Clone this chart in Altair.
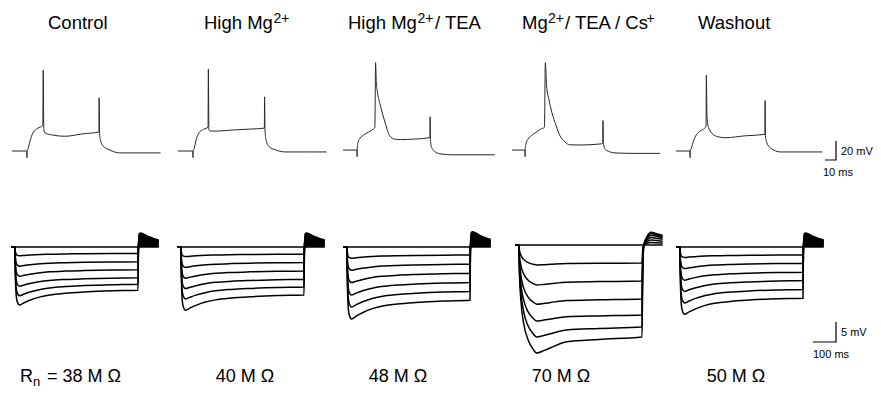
import altair as alt
import pandas as pd

FONT = "Liberation Sans"

# ---------------- top row: evoked action potentials (time ms, voltage mV re rest)
control_ap_t = [0, 13.5, 13.6, 13.7, 14.5, 16.5, 19, 23.5, 28, 28.4, 28.9, 30, 36, 48, 64, 79, 79.2, 79.6, 80.3, 83, 89, 98, 118, 135]
control_ap_v = [0, 0, -7, 0, 2, 11, 19, 24, 27, 85, 23, 19, 17, 15.5, 18, 20, 56, 20, 12, 5, 1, -2, -2, -2]
highmg_ap_t = [0, 13.5, 13.6, 13.7, 14.5, 16.5, 19, 23.5, 27.3, 27.6, 28.1, 29.5, 36, 48, 64, 78.5, 78.7, 79.1, 79.8, 82.5, 89, 98, 118, 135]
highmg_ap_v = [0, 0, -7, 0, 2, 12, 19, 23, 25, 86, 22, 21, 21, 22, 23, 24, 57, 23, 13, 5, 1, -1, -1, -1]
tea_ap_t = [0, 12.7, 12.8, 12.9, 13.6, 15.5, 18.5, 21.8, 27.3, 29, 29.6, 30.3, 31.3, 33.5, 36, 38.5, 42.5, 47, 52, 64, 79, 79.2, 79.5, 80.5, 83, 88, 100, 120, 138]
tea_ap_v = [1, 1, -6, 1, 9, 13.5, 16.5, 19, 23, 25, 93, 72, 62, 50, 39, 29, 16, 12.5, 12, 12.5, 14, 36, 12, 4, 0, -3, -4, -4, -4]
cs_ap_t = [0, 11.8, 11.9, 12, 12.8, 14.5, 17.5, 21, 26, 29.5, 30.3, 31.4, 33.6, 36.4, 40, 43.6, 48.2, 52.7, 61.8, 80, 82.5, 82.7, 83, 85.5, 93.6, 110, 134.5]
cs_ap_v = [1, 1, -6, 1, 8, 12.5, 16, 19, 23, 25, 93, 69, 54, 40, 27, 16, 9.5, 6.5, 6.3, 7.4, 8, 32, 8, 1, -2, -2.5, -2.5]
wash_ap_t = [0, 12.7, 12.8, 12.9, 14, 16, 18.5, 22, 26, 27.3, 27.6, 28.2, 29.5, 32.5, 38, 45, 63, 80.8, 81, 81.3, 82.5, 86, 95, 110, 133]
wash_ap_v = [0, 0, -7, 0, 3, 11, 17, 21, 24, 26, 80, 36, 25, 19, 15, 14, 16, 17.5, 53, 16, 9, 3, -1, -1, -1]

# ---------------- bottom row: hyperpolarizing current steps (mV re rest)
step_on_ms, step_off_ms, trace_end_ms = 15, 550, 640
control_peak = [0, -2.2, -4.8, -7.3, -9.8, -12.2, -14.5]
control_steady = [0, -1.6, -3.7, -5.7, -7.7, -9.3, -10.8]
highmg_peak = [0, -2.4, -5.1, -7.8, -10.4, -13.0, -15.8]
highmg_steady = [0, -1.8, -3.9, -6.0, -8.1, -10.0, -12.0]
tea_peak = [0, -2.8, -5.8, -8.9, -12.0, -15.0, -18.0]
tea_steady = [0, -2.0, -4.3, -6.6, -8.9, -11.1, -13.3]
cs_peak = [0, -5.0, -10.0, -14.8, -19.0, -23.0, -27.0]
cs_steady = [0, -4.5, -9.0, -13.5, -17.5, -20.5, -23.0]
wash_peak = [0, -2.6, -5.4, -8.3, -11.1, -14.0, -16.8]
wash_steady = [0, -2.0, -4.1, -6.3, -8.4, -10.6, -12.8]
rebound_max = [3.5, 3.5, 3.8, 3.2, 3.5]

# time course shapes
sag_onset_t = [0, 1, 4, 9, 20]
sag_onset_f = [0, 0.3, 0.75, 0.93, 1]
sag_decay_t = [0, 20, 45, 90, 130, 200, 280, 400, 515]
sag_decay_f = [1, 0.85, 0.68, 0.45, 0.32, 0.2, 0.12, 0.04, 0]
sag_reb_t = [0, 2, 5, 12, 25, 45, 70, 90]
sag_reb_s = [1, 0, 0, 0, 0, 0, 0, 0]
sag_reb_r = [0, 0, 0.95, 1, 0.92, 0.75, 0.6, 0.5]
cs_onset_t = [0, 2, 8, 20, 40, 60, 78]
cs_onset_f = [0, 0.25, 0.5, 0.72, 0.88, 0.96, 1]
cs_decay_t = [0, 30, 60, 130, 270, 457]
cs_decay_f = [1, 0.85, 0.67, 0.3, 0.15, 0]
cs_reb_t = [0, 3, 8, 20, 40, 60, 90]
cs_reb_s = [1, 0.3, 0, 0, 0, 0, 0]
cs_reb_r = [0, 0, 0, 0.6, 1, 0.9, 0.75]

# ---------------- layout (page pixels)
OX, OY = 8, 8
top_x0 = [12, 178, 343, 512, 676]
top_base = 151
top_px_ms, top_px_mv = 1.1, 0.95
bot_x0 = [11.5, 177.5, 343.5, 515.5, 676.5]
bot_base = [247, 247, 247, 245, 247]
bot_px_ms, bot_px_mv = 0.23, 4.0


def xs(x0, ppu, lo, hi):
    return alt.Scale(domain=[lo, hi], range=[x0 - OX + lo * ppu, x0 - OX + hi * ppu], zero=False, nice=False)


def ys(base, ppu, lo, hi):
    return alt.Scale(domain=[lo, hi], range=[base - OY - lo * ppu, base - OY - hi * ppu], zero=False, nice=False)


layers = []

# top traces
top_sets = [(control_ap_t, control_ap_v), (highmg_ap_t, highmg_ap_v), (tea_ap_t, tea_ap_v),
            (cs_ap_t, cs_ap_v), (wash_ap_t, wash_ap_v)]
for p, (t, v) in enumerate(top_sets):
    df = pd.DataFrame({"t": t, "v": v, "i": list(range(len(t)))})
    layers.append(
        alt.Chart(df).mark_line(color="#262626", strokeWidth=1, interpolate="monotone").encode(
            x=alt.X("t:Q", scale=xs(top_x0[p], top_px_ms, 0, 150), axis=None),
            y=alt.Y("v:Q", scale=ys(top_base, top_px_mv, -20, 110), axis=None),
            order="i:Q",
        )
    )

# bottom families
fam = [
    (control_peak, control_steady, "sag"),
    (highmg_peak, highmg_steady, "sag"),
    (tea_peak, tea_steady, "sag"),
    (cs_peak, cs_steady, "cs"),
    (wash_peak, wash_steady, "sag"),
]
for p, (peaks, steadys, kind) in enumerate(fam):
    if kind == "sag":
        on_t, on_f, de_t, de_f = sag_onset_t, sag_onset_f, sag_decay_t, sag_decay_f
        rb_t, rb_s, rb_r = sag_reb_t, sag_reb_s, sag_reb_r
    else:
        on_t, on_f, de_t, de_f = cs_onset_t, cs_onset_f, cs_decay_t, cs_decay_f
        rb_t, rb_s, rb_r = cs_reb_t, cs_reb_s, cs_reb_r
    rows = []
    blob = []
    deep = min(steadys)
    for k, (P, S) in enumerate(zip(peaks, steadys)):
        R = rebound_max[p] * (S / deep if deep else 0)
        pts = [(0, 0.0), (step_on_ms, 0.0)]
        for tt, ff in zip(on_t[1:], on_f[1:]):
            pts.append((step_on_ms + tt, P * ff))
        tpk = step_on_ms + on_t[-1]
        for tt, ff in zip(de_t[1:], de_f[1:]):
            pts.append((tpk + tt, S + (P - S) * ff))
        for tt, a, b in zip(rb_t[1:], rb_s[1:], rb_r[1:]):
            pts.append((step_off_ms + tt, a * S + b * R))
        for j, (tt, vv) in enumerate(pts):
            rows.append({"trace": k, "t": tt, "v": vv, "i": j})
        if S == deep and kind == "sag":
            for tt, a, b in zip(rb_t[1:], rb_s[1:], rb_r[1:]):
                blob.append({"t": step_off_ms + tt, "v": a * S + b * R, "z": 0.0})
    df = pd.DataFrame(rows)
    xsc = xs(bot_x0[p], bot_px_ms, 0, trace_end_ms)
    ysc = ys(bot_base[p], bot_px_mv, -30, 6)
    layers.append(
        alt.Chart(df).mark_line(color="black", strokeWidth=1.5, interpolate="monotone").encode(
            x=alt.X("t:Q", scale=xsc, axis=None),
            y=alt.Y("v:Q", scale=ysc, axis=None),
            detail="trace:N",
            order="i:Q",
        )
    )
    if blob:
        layers.append(
            alt.Chart(pd.DataFrame(blob)).mark_area(color="black", interpolate="monotone").encode(
                x=alt.X("t:Q", scale=xsc, axis=None),
                y=alt.Y("v:Q", scale=ysc, axis=None),
                y2="z:Q",
            )
        )

# scale bars (drawn in data units through the same pixel-per-unit factors)
bar_top = pd.DataFrame({"t": [-10, 0, 0], "v": [0, 0, 20], "i": [0, 1, 2]})
layers.append(
    alt.Chart(bar_top).mark_line(color="black", strokeWidth=1.2).encode(
        x=alt.X("t:Q", scale=xs(836, top_px_ms, -10, 0), axis=None),
        y=alt.Y("v:Q", scale=ys(160, top_px_mv, 0, 20), axis=None),
        order="i:Q",
    )
)
bar_bot = pd.DataFrame({"t": [-100, 0, 0], "v": [0, 0, 5], "i": [0, 1, 2]})
layers.append(
    alt.Chart(bar_bot).mark_line(color="black", strokeWidth=1.2).encode(
        x=alt.X("t:Q", scale=xs(836, bot_px_ms, -100, 0), axis=None),
        y=alt.Y("v:Q", scale=ys(342, bot_px_mv, 0, 5), axis=None),
        order="i:Q",
    )
)

# texts (page coordinates)
left_texts = [
    ("Control", 48, 28.5, 18.5), ("High Mg", 204, 28.5, 18.5), ("2+", 273.5, 22.5, 14),
    ("High Mg", 348, 28.5, 18.5), ("2+", 417.5, 22.5, 14), ("/ TEA", 435, 28.5, 18.5),
    ("Mg", 522, 28.5, 18.5), ("2+", 548, 22.5, 14), ("/ TEA / Cs", 565, 28.5, 18.5), ("+", 646.5, 22.5, 14),
    ("Washout", 698, 28.5, 18.5),
    ("R", 20, 382, 18), ("n", 33, 386, 13), ("= 38 M Ω", 47, 382, 18),
    ("20 mV", 841, 155, 11), ("10 ms", 823, 176, 11), ("5 mV", 841, 336, 11), ("100 ms", 813, 358, 11),
]
center_texts = [("40 M Ω", 245, 382, 18), ("48 M Ω", 398, 382, 18), ("70 M Ω", 561, 382, 18), ("50 M Ω", 736, 382, 18)]


def text_layer(items, align):
    df = pd.DataFrame({
        "label": [a for a, _, _, _ in items],
        "x": [b - OX for _, b, _, _ in items],
        "y": [c - OY for _, _, c, _ in items],
        "fs": [d for _, _, _, d in items],
    })
    return alt.Chart(df).mark_text(align=align, baseline="alphabetic", font=FONT, color="black").encode(
        x=alt.X("x:Q", scale=None, axis=None),
        y=alt.Y("y:Q", scale=None, axis=None),
        size=alt.Size("fs:Q", scale=None, legend=None),
        text="label:N",
    )


layers.append(text_layer(left_texts, "left"))
layers.append(text_layer(center_texts, "center"))

chart = (
    alt.layer(*layers)
    .resolve_scale(x="independent", y="independent", size="independent")
    .properties(width=865, height=380, padding=0, autosize=alt.AutoSizeParams(type="none"), background="white")
    .configure_view(stroke=None)
)

chart.save("out.html", embed_options={"renderer": "svg", "actions": False})
